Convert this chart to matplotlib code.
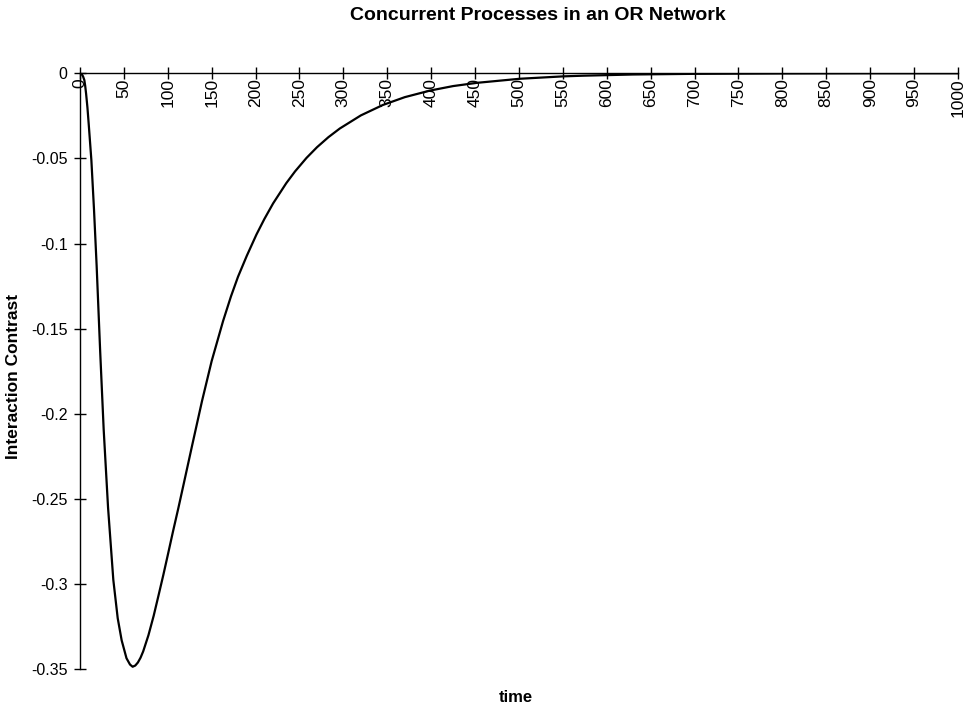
import matplotlib.pyplot as plt
import numpy as np

plt.rcParams['font.family'] = ['Liberation Sans', 'DejaVu Sans']

# valores
time = [0, 2, 3.5, 5, 6, 7, 8.5, 10, 13, 16, 19, 23, 27, 32, 38, 43, 47.5, 53,
        57, 60, 63, 66, 69, 72, 78, 84, 90, 95, 100, 106, 112, 118, 128, 139,
        150, 163, 172, 180, 190, 201, 210, 220, 235, 245, 258, 270, 283, 296,
        320, 345, 370, 399, 425, 452, 501, 550, 573, 630, 700, 800, 900, 1000]
contrast = [0, -0.0005, -0.0018, -0.004, -0.0075, -0.012, -0.02, -0.03, -0.051,
            -0.08, -0.113, -0.163, -0.209, -0.255, -0.2975, -0.32, -0.333,
            -0.3435, -0.3472, -0.3485, -0.3478, -0.3460, -0.3432, -0.3395,
            -0.3300, -0.3185, -0.3055, -0.2945, -0.2830, -0.2690, -0.2555,
            -0.2415, -0.2180, -0.1925, -0.1690, -0.1455, -0.1310, -0.1195,
            -0.1072, -0.0947, -0.0856, -0.0764, -0.0645, -0.0576, -0.0497,
            -0.0434, -0.0375, -0.0324, -0.0247, -0.0186, -0.0140, -0.0101,
            -0.0075, -0.0056, -0.0032, -0.0018, -0.0014, -0.0007, -0.0003,
            -0.0001, 0, 0]

xticks = np.arange(0, 1001, 50)
yticks = [0, -0.05, -0.1, -0.15, -0.2, -0.25, -0.3, -0.35]
ytick_labels = ['0', '-0.05', '-0.1', '-0.15', '-0.2', '-0.25', '-0.3', '-0.35']

fig = plt.figure(figsize=(9.68, 7.09), dpi=100)
ax = fig.add_axes([0.0826, 0.056, 0.907, 0.8406])

ax.plot(time, contrast, color='black', linewidth=1.6)

ax.set_xlim(0, 1000)
ax.set_ylim(-0.35, 0)

# eixo x no topo (y = 0), sem moldura
ax.spines['right'].set_visible(False)
ax.spines['bottom'].set_visible(False)
ax.spines['top'].set_linewidth(1.0)
ax.spines['left'].set_linewidth(1.0)

ax.xaxis.tick_top()
ax.set_xticks(xticks)
ax.tick_params(axis='x', which='major', top=True, labeltop=False, labelbottom=False,
               direction='inout', length=8, width=1)
# rótulos do eixo x abaixo da linha do topo
for v in xticks:
    ax.annotate(str(v), xy=(v, 0), xycoords='data', xytext=(0, -3.5),
                textcoords='offset points', rotation=90, ha='center', va='top',
                fontsize=12.5)

ax.set_yticks(yticks)
ax.set_yticklabels(ytick_labels, fontsize=11.5)
ax.tick_params(axis='y', direction='inout', length=8, width=1, pad=5)

fig.text(0.0138, 0.4697, 'Interaction Contrast', rotation=90, ha='center',
         va='center', fontsize=12.5, fontweight='bold')
fig.text(0.533, 0.0095, 'time', ha='center', va='baseline', fontsize=12,
         fontweight='bold')
fig.text(0.5558, 0.9718, 'Concurrent Processes in an OR Network', ha='center',
         va='baseline', fontsize=14, fontweight='bold')

fig.savefig('out.png', dpi=100)
